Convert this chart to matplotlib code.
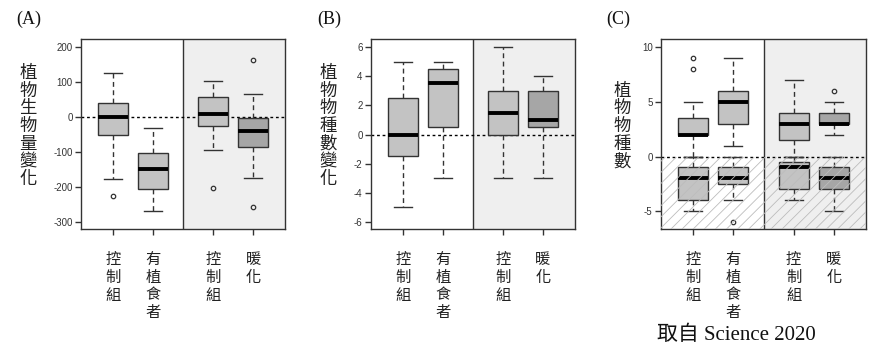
import matplotlib
matplotlib.use('Agg')
import matplotlib.pyplot as plt
from matplotlib.patches import Rectangle

plt.rcParams['font.family'] = ['Noto Sans CJK TC', 'DejaVu Sans']
plt.rcParams['hatch.linewidth'] = 0.6

# ---------------- data ----------------
positions = [1, 2, 3.5, 4.5]
divider = 2.75
x_labels = ['控制組', '有植食者', '控制組', '暖化']

# Panel A: plant biomass change
a_whislo = [-177, -268, -95, -175]
a_q1 = [-52, -205, -27, -86]
a_med = [0, -148, 8, -40]
a_q3 = [40, -103, 58, -3]
a_whishi = [125, -30, 103, 65]
a_fliers = [[-225], [], [-203], [162, -258]]
a_yticks = [200, 100, 0, -100, -200, -300]

# Panel B: plant species number change
b_whislo = [-5, -3, -3, -3]
b_q1 = [-1.5, 0.5, 0, 0.5]
b_med = [0, 3.5, 1.5, 1]
b_q3 = [2.5, 4.5, 3, 3]
b_whishi = [5, 5, 6, 4]
b_fliers = [[], [], [], []]
b_yticks = [6, 4, 2, 0, -2, -4, -6]

# Panel C: plant species number (gains / losses)
c_pos_whislo = [0, 1, 0, 2]
c_pos_q1 = [2, 3, 1.5, 3]
c_pos_med = [2, 5, 3, 3]
c_pos_q3 = [3.5, 6, 4, 4]
c_pos_whishi = [5, 9, 7, 5]
c_pos_fliers = [[8, 9], [], [], [6]]

c_neg_whislo = [-5, -4, -4, -5]
c_neg_q1 = [-4, -2.5, -3, -3]
c_neg_med = [-2, -2, -1, -2]
c_neg_q3 = [-1, -1, -0.5, -1]
c_neg_whishi = [0, 0, 0, 0]
c_neg_fliers = [[], [-6], [], []]
c_yticks = [10, 5, 0, -5]

panel_ylabels = ['植物生物量變化', '植物物種數變化', '植物物種數']
panel_tags = ['(A)', '(B)', '(C)']
source_text = '取自 Science 2020'

# ---------------- style ----------------
box_colors = ['#c3c3c3', '#c3c3c3', '#c3c3c3', '#a6a6a6']
edge = '#333333'
bg_right = '#efefef'
xlim = (0.2, 5.3)

W, H = 869, 356
fig = plt.figure(figsize=(W / 100, H / 100), dpi=100)


def px_axes(left, top, right, bottom):
    return fig.add_axes([left / W, 1 - bottom / H, (right - left) / W, (bottom - top) / H])


def make_stats(whislo, q1, med, q3, whishi, fliers):
    return [dict(whislo=a, q1=b, med=c, q3=d, whishi=e, fliers=f)
            for a, b, c, d, e, f in zip(whislo, q1, med, q3, whishi, fliers)]


def draw_boxes(ax, stats):
    r = ax.bxp(stats, positions=positions, widths=0.75, capwidths=0.45,
               patch_artist=True, showfliers=True,
               boxprops=dict(edgecolor=edge, linewidth=1.0),
               medianprops=dict(color='black', linewidth=2.8, solid_capstyle='butt'),
               whiskerprops=dict(color=edge, linewidth=1.0, linestyle=(0, (3.5, 2.5))),
               capprops=dict(color=edge, linewidth=1.0),
               flierprops=dict(marker='o', markersize=3.2, markerfacecolor='none',
                               markeredgecolor=edge, markeredgewidth=0.9))
    for p, c in zip(r['boxes'], box_colors):
        p.set_facecolor(c)
    return r


def style_axes(ax, ylim, yticks):
    ax.set_xlim(*xlim)
    ax.set_ylim(*ylim)
    ax.axvspan(divider, xlim[1], color=bg_right, zorder=0, lw=0)
    ax.axvline(divider, color=edge, lw=1.0, zorder=1)
    ax.axhline(0, color='black', lw=1.0, ls=(0, (2, 2)), zorder=1.5)
    for s in ax.spines.values():
        s.set_color(edge)
        s.set_linewidth(1.0)
    ax.set_yticks(yticks)
    ax.set_yticklabels([str(t) for t in yticks], fontfamily='Liberation Sans', fontsize=7, color=edge)
    ax.set_xticks(positions)
    ax.set_xticklabels(['\n'.join(l) for l in x_labels], fontsize=11, linespacing=1.05,
                       va='top', color='#222222')
    ax.tick_params(axis='both', direction='out', length=4, width=1.0, color=edge)
    ax.tick_params(axis='x', pad=12)
    ax.tick_params(axis='y', pad=2)


# Panel A
axA = px_axes(81, 39, 285, 229)
draw_boxes(axA, make_stats(a_whislo, a_q1, a_med, a_q3, a_whishi, a_fliers))
style_axes(axA, (-320, 223), a_yticks)

# Panel B
axB = px_axes(371, 39, 575, 229)
draw_boxes(axB, make_stats(b_whislo, b_q1, b_med, b_q3, b_whishi, b_fliers))
style_axes(axB, (-6.48, 6.55), b_yticks)

# Panel C
axC = px_axes(661, 39, 866, 229)
draw_boxes(axC, make_stats(c_pos_whislo, c_pos_q1, c_pos_med, c_pos_q3, c_pos_whishi, c_pos_fliers))
draw_boxes(axC, make_stats(c_neg_whislo, c_neg_q1, c_neg_med, c_neg_q3, c_neg_whishi, c_neg_fliers))
c_ylim = (-6.6, 10.7)
style_axes(axC, c_ylim, c_yticks)
axC.add_patch(Rectangle((xlim[0], c_ylim[0]), xlim[1] - xlim[0], 0 - c_ylim[0],
                        facecolor='none', edgecolor='#bcbcbc', hatch='///', lw=0, zorder=3))

# y labels (vertical CJK)
for xc, lab in zip([28, 328, 622], panel_ylabels):
    fig.text(xc / W, 1 - 126 / H, '\n'.join(lab), ha='center', va='center',
             fontsize=12.5, linespacing=0.97, color='#222222')

# panel tags
for xl, tag in zip([16, 317, 606], panel_tags):
    fig.text(xl / W, 1 - 19 / H, tag, ha='left', va='center',
             fontfamily='Liberation Serif', fontsize=13, color='#111111')

fig.text(657 / W, 1 - 335 / H, source_text, ha='left', va='center',
         fontfamily=['Liberation Serif', 'Noto Sans CJK TC'], fontsize=15, color='#111111')

fig.savefig('out.png', dpi=100)
